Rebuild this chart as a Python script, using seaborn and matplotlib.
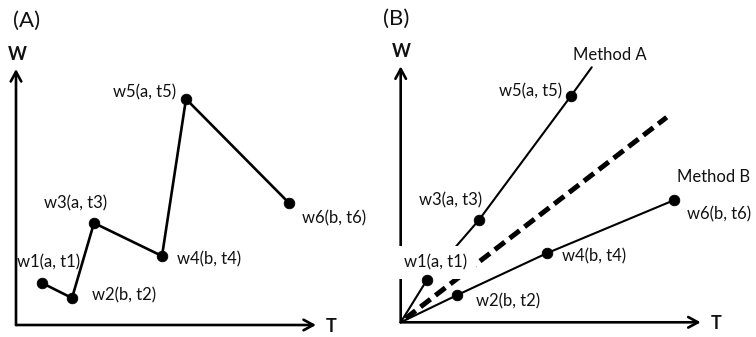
import matplotlib
matplotlib.use("Agg")
import matplotlib.pyplot as plt
import seaborn as sns
import pandas as pd

# ---------------- data ----------------
point_ids = [1, 2, 3, 4, 5, 6]
methods = ["a", "b", "a", "b", "a", "b"]
T_vals = [2.6, 5.6, 7.8, 14.6, 17.0, 27.3]
W_vals = [4.2, 2.7, 10.2, 6.9, 22.6, 12.2]
labels = [f"w{i}({m}, t{i})" for i, m in zip(point_ids, methods)]

# fitted lines of panel B (origin -> end)
methodA_end = (19.1, 25.5)
trend_T = [0.5, 26.6]
trend_W = [0.4, 20.5]
axis_T_len = 30.0
axis_W_len = 25.6

df = pd.DataFrame({"T": T_vals, "W": W_vals, "method": methods, "label": labels})

# ---------------- style ----------------
sns.set_theme(style="white")
plt.rcParams["font.family"] = ["Lato", "DejaVu Sans"]
plt.rcParams["lines.scale_dashes"] = False

DPI = 100
fig = plt.figure(figsize=(7.56, 3.37), dpi=DPI)
axA = fig.add_axes([0, 0, 0.5, 1])
axB = fig.add_axes([0.5, 0, 0.5, 1])

TXT = "#111111"

for ax in (axA, axB):
    ax.set_axis_off()
    arrow = dict(arrowstyle="->,head_length=0.7,head_width=0.38", lw=1.9,
                 color="black", shrinkA=0, shrinkB=0, mutation_scale=10)
    ax.annotate("", xy=(axis_T_len, 0), xytext=(0, 0), arrowprops=arrow, zorder=1)
    ax.annotate("", xy=(0, axis_W_len), xytext=(0, 0), arrowprops=arrow, zorder=1)
    ax.annotate("T", xy=(axis_T_len, 0), xytext=(15, -1), textcoords="offset pixels",
                ha="center", va="center", fontsize=13, fontweight="bold", color=TXT)
    ax.annotate("W", xy=(0, axis_W_len), xytext=(1, 15), textcoords="offset pixels",
                ha="center", va="center", fontsize=13, fontweight="bold", color=TXT)

LABEL_FS = 12
DOT = 58

# ---------------- panel A ----------------
sns.lineplot(data=df, x="T", y="W", sort=False, color="black", lw=1.9,
             ax=axA, zorder=2, legend=False)
sns.scatterplot(data=df, x="T", y="W", color="black", s=DOT, edgecolor="black",
                ax=axA, zorder=5, legend=False)
offsA = [("center", 7, 21), ("left", 20, 3), ("center", -18, 20),
         ("left", 15, -3), ("right", -10, 7), ("left", 13, -15)]
for (t, w, lab), (ha, dx, dy) in zip(zip(T_vals, W_vals, labels), offsA):
    axA.annotate(lab, xy=(t, w), xytext=(dx, dy), textcoords="offset pixels",
                 ha=ha, va="center", fontsize=LABEL_FS, color=TXT)
axA.set_xlim(-1.6, 36.2)
axA.set_ylim(-1.2, 32.5)

# ---------------- panel B ----------------
dfa = df[df["method"] == "a"]
dfb = df[df["method"] == "b"]
lineA = pd.DataFrame({"T": [0.0] + list(dfa["T"]) + [methodA_end[0]],
                      "W": [0.0] + list(dfa["W"]) + [methodA_end[1]]})
lineB = pd.DataFrame({"T": [0.0] + list(dfb["T"]),
                      "W": [0.0] + list(dfb["W"])})
sns.lineplot(data=lineA, x="T", y="W", sort=False, color="black", lw=1.5,
             ax=axB, zorder=2, legend=False)
sns.lineplot(data=lineB, x="T", y="W", sort=False, color="black", lw=1.5,
             ax=axB, zorder=2, legend=False)
axB.plot(trend_T, trend_W, color="black", lw=3.6, dashes=(9, 4.5),
         dash_capstyle="butt", zorder=2)
sns.scatterplot(data=df, x="T", y="W", color="black", s=DOT, edgecolor="black",
                ax=axB, zorder=5, legend=False)
offsB = [("center", 9, 18), ("left", 19, -6), ("right", 3, 20),
         ("left", 15, -3), ("right", -9, 5), ("left", 13, -14)]
for (t, w, lab), (ha, dx, dy) in zip(zip(T_vals, W_vals, labels), offsB):
    kw = {}
    if lab.startswith("w1"):
        kw["bbox"] = dict(boxstyle="square,pad=0.5", facecolor="white",
                          edgecolor="none")
    axB.annotate(lab, xy=(t, w), xytext=(dx, dy), textcoords="offset pixels",
                 ha=ha, va="center", fontsize=LABEL_FS, color=TXT,
                 zorder=3, **kw)
axB.annotate("Method A", xy=methodA_end, xytext=(18, 12), textcoords="offset pixels",
             ha="center", va="center", fontsize=LABEL_FS, color=TXT)
axB.annotate("Method B", xy=(T_vals[5], W_vals[5]), xytext=(3, 23),
             textcoords="offset pixels", ha="left", va="center",
             fontsize=LABEL_FS, color=TXT)
axB.set_xlim(-2.27, 35.53)
axB.set_ylim(-1.47, 32.23)

# panel tags
fig.text(13 / 756, 1 - 21 / 337, "(A)", ha="left", va="center", fontsize=16,
         color=TXT)
fig.text(383 / 756, 1 - 19 / 337, "(B)", ha="left", va="center", fontsize=16,
         color=TXT)

fig.savefig("out.png", dpi=DPI)
